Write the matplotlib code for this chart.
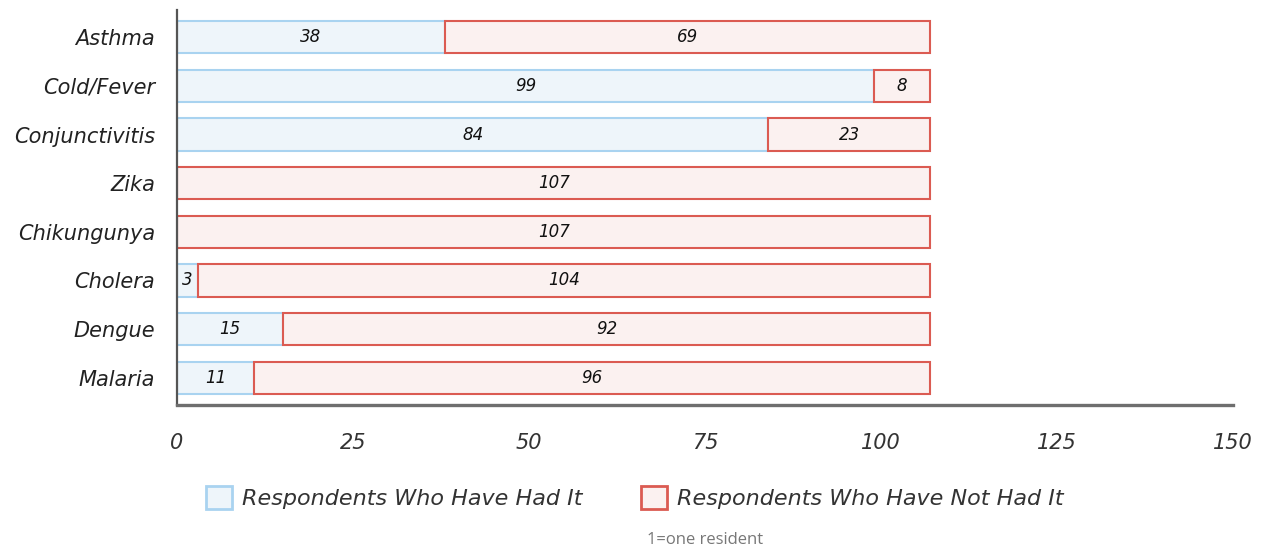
import matplotlib
matplotlib.use("Agg")
import matplotlib.pyplot as plt
from matplotlib.patches import Patch
import numpy as np

# Survey responses: number of residents per illness
diseases = ["Asthma", "Cold/Fever", "Conjunctivitis", "Zika",
            "Chikungunya", "Cholera", "Dengue", "Malaria"]
had_it = [38, 99, 84, 0, 0, 3, 15, 11]
not_had_it = [69, 8, 23, 107, 107, 104, 92, 96]
x_ticks = [0, 25, 50, 75, 100, 125, 150]
series_names = ["Respondents Who Have Had It", "Respondents Who Have Not Had It"]

blue_fill, blue_edge = "#EEF5FA", "#A9D3F0"
red_fill, red_edge = "#FBF1F0", "#DB5B52"
hand = dict(family="DejaVu Sans", style="italic")

fig = plt.figure(figsize=(12.62, 5.5), dpi=100)
ax = fig.add_axes([0.1403, 0.2636, 0.8367, 0.7182])

y = np.arange(len(diseases))
h = 0.66
ax.barh(y, had_it, height=h, color=blue_fill, edgecolor=blue_edge, linewidth=1.5)
ax.barh(y, not_had_it, left=had_it, height=h, color=red_fill,
        edgecolor=red_edge, linewidth=1.5)

for yi, a, b in zip(y, had_it, not_had_it):
    if a > 0:
        ax.text(a / 2, yi, str(a), ha="center", va="center", fontsize=12,
                color="#111111", **hand)
    if b > 0:
        ax.text(a + b / 2, yi, str(b), ha="center", va="center", fontsize=12,
                color="#111111", **hand)

ax.set_xlim(0, 150)
ax.set_ylim(len(diseases) - 0.44, -0.56)
ax.set_yticks(y)
ax.set_yticklabels(diseases, fontsize=15, color="#222222", **hand)
ax.set_xticks(x_ticks)
ax.set_xticklabels([str(t) for t in x_ticks], fontsize=15, color="#333333", **hand)
ax.tick_params(axis="y", length=0, pad=16)
ax.tick_params(axis="x", length=0, pad=20)

for side in ("top", "right"):
    ax.spines[side].set_visible(False)
ax.spines["left"].set_color("#555555")
ax.spines["left"].set_linewidth(1.6)
ax.spines["bottom"].set_color("#6E6E6E")
ax.spines["bottom"].set_linewidth(2.4)

handles = [Patch(facecolor=blue_fill, edgecolor=blue_edge, linewidth=2),
           Patch(facecolor=red_fill, edgecolor=red_edge, linewidth=2)]
fig.legend(handles, series_names, loc="center", bbox_to_anchor=(0.503, 0.095),
           ncol=2, frameon=False, handlelength=1.2, handleheight=1.2,
           handletextpad=0.45, columnspacing=2.6,
           prop=dict(size=16, style="italic", family="DejaVu Sans"),
           labelcolor="#333333")

fig.text(0.559, 0.018, "1=one resident", ha="center", va="center",
         fontsize=12, color="#777777", family="Open Sans")

fig.savefig("out.png", dpi=100)
